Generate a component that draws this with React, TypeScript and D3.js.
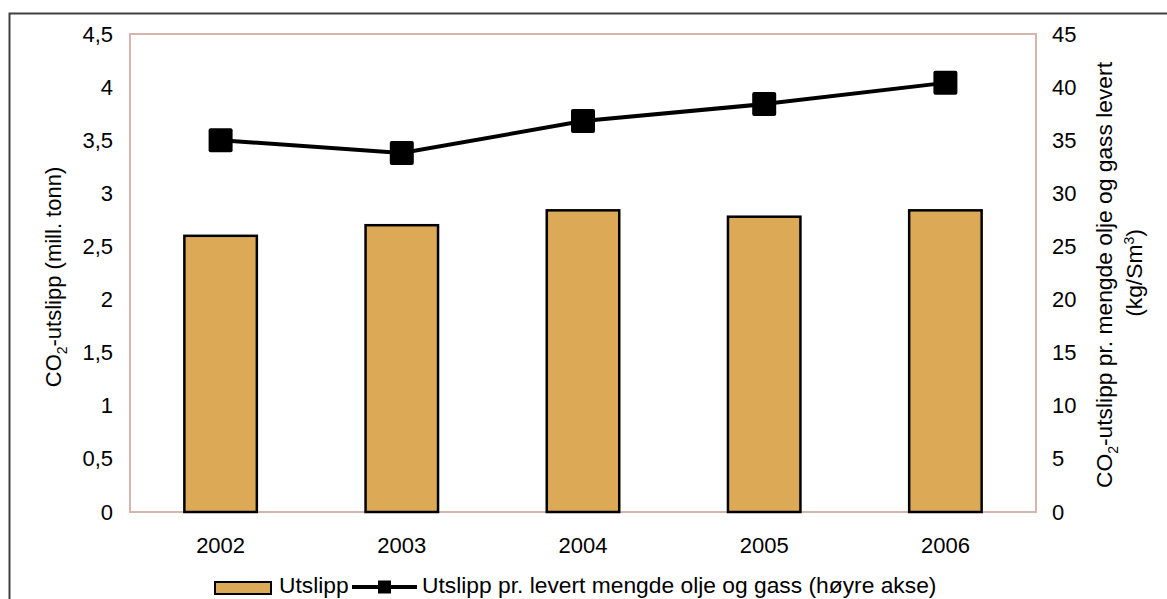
import { useEffect, useRef } from 'react'
import * as d3 from 'd3'

const years = ['2002', '2003', '2004', '2005', '2006']
const utslipp = [2.6, 2.7, 2.84, 2.78, 2.84]
const utslippPerMengde = [35.0, 33.8, 36.8, 38.4, 40.4]
const leftTicks = [0, 0.5, 1, 1.5, 2, 2.5, 3, 3.5, 4, 4.5]
const rightTicks = [0, 5, 10, 15, 20, 25, 30, 35, 40, 45]

const width = 1167
const height = 599
const margin = { top: 34, right: 131, bottom: 87, left: 130 }

const barColor = '#DCAA56'
const frameColor = '#D8B4AE'
const font = 'Arial, "Liberation Sans", sans-serif'

const comma = (d: number) => String(d).replace('.', ',')

const App = () => {
  const xAxisRef = useRef<SVGGElement>(null)
  const yAxisRef = useRef<SVGGElement>(null)
  const y2AxisRef = useRef<SVGGElement>(null)

  const xScale = d3
    .scaleBand()
    .domain(years)
    .range([margin.left, width - margin.right])
    .paddingInner(0.6)
    .paddingOuter(0.3)

  const yScale = d3
    .scaleLinear()
    .domain([0, 4.5])
    .range([height - margin.bottom, margin.top])

  const y2Scale = d3
    .scaleLinear()
    .domain([0, 45])
    .range([height - margin.bottom, margin.top])

  const cx = (d: string) => (xScale(d) as number) + xScale.bandwidth() / 2

  const line = d3
    .line<number>()
    .x((_, i) => cx(years[i]))
    .y(d => y2Scale(d))

  useEffect(() => {
    const style = (g: d3.Selection<SVGGElement, unknown, null, undefined>) => {
      g.select('.domain').remove()
      g.selectAll('.tick line').remove()
      g.selectAll('text')
        .attr('font-size', 22)
        .attr('font-family', font)
        .attr('fill', '#000')
    }
    xAxisRef.current &&
      d3
        .select(xAxisRef.current)
        .call(d3.axisBottom(xScale).tickSize(0).tickPadding(25))
        .call(style)
    yAxisRef.current &&
      d3
        .select(yAxisRef.current)
        .call(
          d3
            .axisLeft(yScale)
            .tickValues(leftTicks)
            .tickFormat(d => comma(d as number))
            .tickSize(0)
            .tickPadding(17)
        )
        .call(style)
    y2AxisRef.current &&
      d3
        .select(y2AxisRef.current)
        .call(
          d3
            .axisRight(y2Scale)
            .tickValues(rightTicks)
            .tickFormat(d => comma(d as number))
            .tickSize(0)
            .tickPadding(16)
        )
        .call(style)
  }, [])

  const plotW = width - margin.left - margin.right
  const plotH = height - margin.top - margin.bottom
  const midY = margin.top + plotH / 2
  const legendY = 587

  return (
    <svg
      width={width}
      height={height}
      style={{ position: 'absolute', left: 0, top: 0, background: '#fff' }}
      fontFamily={font}
    >
      <rect x={0} y={0} width={width} height={height} fill="#fff" />
      {/* outer chart frame, only top and left are visible */}
      <path
        d={`M9.5,${height} V13.5 H${width}`}
        fill="none"
        stroke="#404040"
        strokeWidth={2}
      />
      <rect
        x={margin.left}
        y={margin.top}
        width={plotW}
        height={plotH}
        fill="none"
        stroke={frameColor}
        strokeWidth={2}
      />
      {utslipp.map((v, i) => (
        <rect
          key={years[i]}
          x={xScale(years[i])}
          y={yScale(v)}
          width={xScale.bandwidth()}
          height={yScale(0) - yScale(v)}
          fill={barColor}
          stroke="#000"
          strokeWidth={2.5}
        />
      ))}
      <path
        d={line(utslippPerMengde) || ''}
        fill="none"
        stroke="#000"
        strokeWidth={4}
      />
      {utslippPerMengde.map((v, i) => (
        <rect
          key={years[i]}
          x={cx(years[i]) - 12}
          y={y2Scale(v) - 12}
          width={24}
          height={24}
          rx={2}
          fill="#000"
        />
      ))}
      <g ref={xAxisRef} transform={`translate(0, ${height - margin.bottom})`} />
      <g ref={yAxisRef} transform={`translate(${margin.left}, 0)`} />
      <g ref={y2AxisRef} transform={`translate(${width - margin.right}, 0)`} />

      <text
        transform={`translate(61, ${midY + 4}) rotate(-90)`}
        textAnchor="middle"
        fontSize={22}
      >
        CO<tspan fontSize={14} dy={6}>2</tspan>
        <tspan dy={-6}>-utslipp (mill. tonn)</tspan>
      </text>
      <text
        transform={`translate(1112, ${midY + 2}) rotate(-90)`}
        textAnchor="middle"
        fontSize={22.8}
      >
        CO<tspan fontSize={14} dy={6}>2</tspan>
        <tspan dy={-6}>-utslipp pr. mengde olje og gass levert</tspan>
      </text>
      <text
        transform={`translate(1142, ${midY}) rotate(-90)`}
        textAnchor="middle"
        fontSize={22.8}
      >
        (kg/Sm<tspan fontSize={14} dy={-8}>3</tspan>
        <tspan dy={8}>)</tspan>
      </text>

      <g fontSize={22.8}>
        <rect
          x={215}
          y={legendY - 5}
          width={56}
          height={12}
          fill={barColor}
          stroke="#000"
          strokeWidth={2}
        />
        <text x={279} y={593}>
          Utslipp
        </text>
        <line
          x1={352}
          x2={417}
          y1={legendY}
          y2={legendY}
          stroke="#000"
          strokeWidth={4}
        />
        <rect x={378} y={legendY - 6.5} width={13} height={13} fill="#000" />
        <text x={422} y={593}>
          Utslipp pr. levert mengde olje og gass (høyre akse)
        </text>
      </g>
    </svg>
  )
}

export default App
